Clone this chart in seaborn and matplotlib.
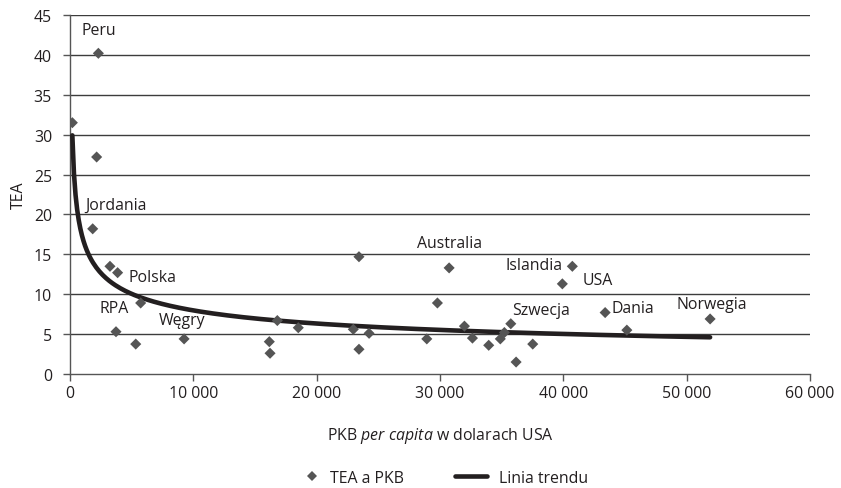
import numpy as np
import pandas as pd
import matplotlib
matplotlib.use("Agg")
import matplotlib.pyplot as plt
import seaborn as sns
from matplotlib.lines import Line2D

# ---- data ----
gdp = [190, 2300, 2160, 1840, 3240, 3860, 5730, 3730, 5330, 9250,
       16160, 16220, 16810, 18510, 22970, 23430, 23430, 24250, 28930, 29790,
       30740, 31980, 32630, 33950, 34890, 35220, 35740, 36170, 37520, 39920,
       40730, 43390, 45150, 51900]
tea = [31.5, 40.2, 27.2, 18.2, 13.5, 12.7, 8.9, 5.3, 3.75, 4.4,
       4.05, 2.6, 6.7, 5.8, 5.6, 14.7, 3.1, 5.1, 4.4, 8.9,
       13.3, 6.0, 4.5, 3.6, 4.4, 5.2, 6.3, 1.5, 3.75, 11.3,
       13.5, 7.7, 5.5, 6.9]

label_names = ["Peru", "Jordania", "Polska", "RPA", "Węgry", "Australia",
               "Islandia", "Szwecja", "USA", "Dania", "Norwegia"]
label_x = [950, 1220, 4780, 2380, 7160, 28170, 35340, 35870, 41550, 43930, 49200]
label_y = [43.1, 21.25, 12.1, 8.3, 6.8, 16.4, 13.7, 8.0, 11.75, 8.3, 8.75]

x_ticks = [0, 10000, 20000, 30000, 40000, 50000, 60000]
x_tick_labels = ["0", "10 000", "20 000", "30 000", "40 000", "50 000", "60 000"]
y_ticks = [0, 5, 10, 15, 20, 25, 30, 35, 40, 45]

# power trend as shown in the chart: TEA = a * GDP^b
trend_a = 172.3
trend_b = -0.3337

df = pd.DataFrame({"gdp": gdp, "tea": tea})
xs = np.linspace(min(gdp), max(gdp), 400)
trend = pd.DataFrame({"gdp": xs, "tea": trend_a * xs ** trend_b})

sns.set_theme(style="white")
plt.rcParams["font.family"] = ["Open Sans", "DejaVu Sans"]
plt.rcParams["mathtext.fontset"] = "custom"
plt.rcParams["mathtext.rm"] = "Open Sans"
plt.rcParams["mathtext.it"] = "Open Sans:italic"

FS = 11.4
TXT = "#231f20"

fig = plt.figure(figsize=(8.41, 4.89), dpi=100)
ax = fig.add_axes([70 / 841, 1 - 375 / 489, 740 / 841, 359 / 489])

grid_c = "#3c3c3c"
for yv in y_ticks[1:]:
    ax.axhline(yv, color=grid_c, lw=1.0, zorder=1)

sns.lineplot(data=trend, x="gdp", y="tea", color=TXT, lw=3.3, ax=ax,
             zorder=3, legend=False)
sns.scatterplot(data=df, x="gdp", y="tea", marker="D", s=32, color="#555555",
                edgecolor="none", ax=ax, zorder=4, legend=False)

for name, lx, ly in zip(label_names, label_x, label_y):
    ax.text(lx, ly, name, ha="left", va="center", fontsize=FS, color=TXT,
            zorder=5)

ax.set_xlim(0, 60000)
ax.set_ylim(0, 45)
ax.set_xticks(x_ticks)
ax.set_xticklabels(x_tick_labels)
ax.set_yticks(y_ticks)
ax.tick_params(axis="both", labelsize=FS, labelcolor=TXT, length=5,
               width=1, direction="out", color="#555555")
ax.tick_params(axis="y", pad=8)
ax.tick_params(axis="x", pad=3)
ax.tick_params(axis="both", bottom=True, left=True)
for s in ["top", "right"]:
    ax.spines[s].set_visible(False)
for s in ["left", "bottom"]:
    ax.spines[s].set_color("#555555")
    ax.spines[s].set_linewidth(1.0)

ax.set_ylabel("TEA", fontsize=FS, color=TXT, labelpad=5)
ax.set_xlabel(r"PKB $\it{per\ capita}$ w dolarach USA", fontsize=FS,
              color=TXT, labelpad=17)

h1 = Line2D([], [], marker="D", ls="none", color="#555555", markersize=5,
            markeredgewidth=0)
h2 = Line2D([], [], color=TXT, lw=3.3)
leg1 = fig.legend([h1], ["TEA a PKB"], loc="center left",
                  bbox_to_anchor=(302 / 841, 1 - 479 / 489), frameon=False,
                  fontsize=FS, handlelength=1.2, handletextpad=0.6,
                  borderpad=0, borderaxespad=0)
leg2 = fig.legend([h2], ["Linia trendu"], loc="center left",
                  bbox_to_anchor=(455 / 841, 1 - 479 / 489), frameon=False,
                  fontsize=FS, handlelength=2.0, handletextpad=0.8,
                  borderpad=0, borderaxespad=0)
for lg in (leg1, leg2):
    for t in lg.get_texts():
        t.set_color(TXT)

fig.savefig("out.png", dpi=100)
